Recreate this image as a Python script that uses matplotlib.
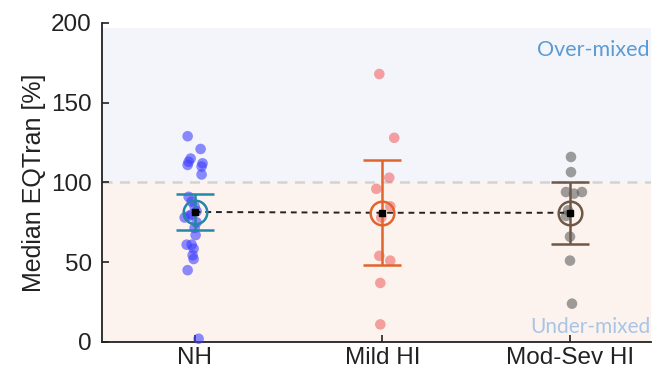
import matplotlib
matplotlib.use("Agg")
import matplotlib.pyplot as plt
import numpy as np

plt.rcParams['font.family'] = ['Liberation Sans', 'DejaVu Sans']

groups = ['NH', 'Mild HI', 'Mod-Sev HI']

# individual medians per listener, with small x jitter
nh_vals = [129, 121, 115, 113, 111, 112, 110, 105,
           91, 88, 85, 82, 80, 78, 79, 75, 71.5, 67, 61, 61, 58.5, 54.4, 52, 45, 2]
nh_jit = [-7, 6, -4, -6, -7, 8, 7, 7,
          -6, -3, 0, 2, -3, -10, -6, 2, 0, 1, -8, -3, -1, -2, -1, -7, 4]
mild_vals = [168, 128, 103, 96, 85, 78, 54, 51, 37, 11]
mild_jit = [-3, 12, 7, -6, 8, -1, -3, 8, -2, -2]
sev_vals = [116, 106.5, 94, 93, 94, 82.5, 79, 66, 51, 24]
sev_jit = [1, 1, -4, 4, 12, -2, -4, 0, 0, 2]

# group means and error bar half widths
means = [81.5, 81, 81]
ci = [11.5, 33, 19.5]

dot_colors = ['#3b3bff', '#f06262', '#5a5a5a']
bar_colors = ['#2586a8', '#e0652c', '#6e5848']

fig = plt.figure(figsize=(6.52, 3.77), dpi=100)
ax = fig.add_axes([0.156, 0.093, 0.842, 0.846])

ax.axhspan(100, 197, color='#f3f5fb', zorder=0, lw=0)
ax.axhspan(0, 100, color='#fdf3ee', zorder=0, lw=0)
ax.axhline(100, color='#d3d3d3', ls=(0, (4, 3)), lw=1.8, zorder=1)

px = 1 / 188.5
all_vals = [nh_vals, mild_vals, sev_vals]
all_jit = [nh_jit, mild_jit, sev_jit]
for i in range(3):
    x = (i + 1) + np.array(all_jit[i]) * px
    ax.scatter(x, all_vals[i], s=58, color=dot_colors[i], alpha=0.58,
               edgecolors='none', zorder=3, clip_on=False)

xs = np.arange(1, 4)
ax.plot(xs, means, color='#222222', ls=(0, (3, 2.5)), lw=1.4, zorder=4)
for i in range(3):
    ax.errorbar(xs[i], means[i], yerr=ci[i], color=bar_colors[i], lw=1.8,
                capsize=14, capthick=1.8, zorder=5)
    ax.plot(xs[i], means[i], 'o', ms=17, mfc='none', mec=bar_colors[i],
            mew=1.8, zorder=6)
    ax.plot(xs[i], means[i], 's', ms=4, color='black', zorder=7)

ax.text(0.997, 0.916, 'Over-mixed', transform=ax.transAxes, ha='right',
        va='center', fontsize=15.5, color='#5b9bd5', family='Lato')
ax.text(1.0, 0.047, 'Under-mixed', transform=ax.transAxes, ha='right',
        va='center', fontsize=15, color='#a8c4e6', family='Lato')

ax.set_xlim(0.505, 3.43)
ax.set_ylim(0, 200)
ax.set_yticks([0, 50, 100, 150, 200])
ax.set_xticks(xs)
ax.set_xticklabels(groups)
ax.tick_params(direction='in', labelsize=17.5, width=1.2, length=5,
               colors='#222222')
ax.tick_params(axis='y', pad=7)
ax.set_ylabel('Median EQTran [%]', fontsize=18, color='#222222', labelpad=4)
for s in ['top', 'right']:
    ax.spines[s].set_visible(False)
for s in ['left', 'bottom']:
    ax.spines[s].set_linewidth(1.3)
    ax.spines[s].set_color('#222222')

fig.savefig('out.png', dpi=100)
